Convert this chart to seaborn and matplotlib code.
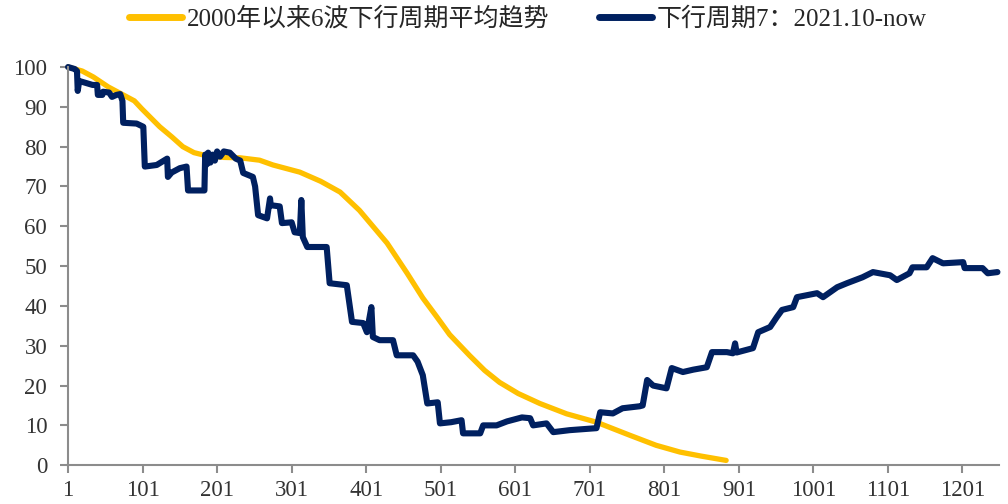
import pandas as pd
import matplotlib
matplotlib.use('Agg')
import matplotlib.pyplot as plt
import seaborn as sns


# 2000年以来6波下行周期平均趋势
avg_x = [1, 20, 35, 55, 75, 90, 100, 124, 140, 155, 170, 185, 210, 232, 258, 276,
         312, 340, 366, 392, 429, 456, 477, 496, 513, 540, 560, 580, 605, 634, 670,
         710, 755, 790, 822, 850, 884]
avg_y = [100, 99, 97.5, 95, 93, 91.5, 89.5, 85, 82.5, 80, 78.5, 77.8, 77.3, 77.2, 76.6, 75.4,
         73.6, 71.3, 68.6, 64, 55.8, 48.2, 42, 37.2, 32.8, 27.5, 23.8, 20.8, 18, 15.5, 12.9,
         10.8, 7.5, 5, 3.3, 2.3, 1.2]

# 下行周期7: 2021.10-now
cyc_x = [1, 10, 13, 14, 16, 25, 34, 40, 41, 47, 48, 56, 60, 66, 71, 74, 75, 93, 102, 104,
         120, 134, 135, 140, 151, 160, 162, 184, 185, 187, 189, 192, 195, 198, 201, 205,
         210, 218, 226, 232, 236, 249, 252, 256, 268, 272, 273, 285, 288, 301, 305, 312,
         314, 316, 322, 348, 352, 375, 382, 397, 402, 408, 410, 419, 437, 442, 464, 470,
         477, 483, 497, 500, 515, 529, 531, 554, 558, 576, 590, 610, 621, 625, 643, 652,
         674, 710, 715, 732, 745, 768, 772, 778, 786, 804, 811, 826, 840, 858, 865, 885,
         893, 896, 898, 920, 927, 943, 952, 959, 974, 979, 1006, 1014, 1033, 1046, 1067,
         1081, 1104, 1113, 1130, 1134, 1153, 1161, 1175, 1202, 1204, 1228, 1235, 1248]
cyc_y = [100, 99.5, 99, 94, 96.5, 96, 95.5, 95.5, 93, 93, 93.8, 93.6, 92.5, 93, 93.2, 91.5,
         86, 85.8, 85, 75, 75.4, 77, 72.4, 73.5, 74.6, 75, 69, 69, 78, 75.5, 78.5, 76, 78,
         76.5, 78.8, 77.5, 78.8, 78.5, 77, 76.5, 73.4, 72.4, 70, 62.8, 62, 67, 65.3, 65,
         60.8, 61, 58.5, 58.3, 66.6, 57.3, 54.8, 54.8, 45.7, 45.2, 36, 35.7, 33.4, 39.7,
         32.2, 31.4, 31.4, 27.6, 27.6, 26, 22.6, 15.5, 15.8, 10.5, 10.8, 11.3, 8, 8, 10,
         10, 11, 12, 11.8, 10, 10.5, 8.3, 8.8, 9.3, 13.3, 13, 14.3, 14.8, 15, 21.4, 20,
         19.3, 24.4, 23.4, 24, 24.6, 28.4, 28.4, 28.1, 30.6, 28.3, 29.4, 33.4, 34.7, 37.2,
         39, 39.7, 42.2, 43.2, 42.2, 44.7, 45.7, 47.2, 48.5, 47.7, 46.5, 48.2, 49.7, 49.7,
         52, 50.7, 51, 49.5, 49.5, 48.2, 48.5]

x_ticks = [1, 101, 201, 301, 401, 501, 601, 701, 801, 901, 1001, 1101, 1201]
y_ticks = [0, 10, 20, 30, 40, 50, 60, 70, 80, 90, 100]

avg = pd.DataFrame({'day': avg_x, 'value': avg_y})
cyc = pd.DataFrame({'day': cyc_x, 'value': cyc_y})

sns.set_style('white')
plt.rcParams['font.family'] = ['Liberation Serif', 'Noto Sans CJK SC', 'DejaVu Sans']

fig = plt.figure(figsize=(10.08, 5.04), dpi=100)
ax = fig.add_axes([0.0675, 0.077, 0.9235, 0.79])

sns.lineplot(data=avg, x='day', y='value', color='#FFC000', linewidth=3.8,
             sort=False, estimator=None, label='2000年以来6波下行周期平均趋势',
             clip_on=False, ax=ax)
sns.lineplot(data=cyc, x='day', y='value', color='#002060', linewidth=4.4,
             sort=False, estimator=None, label='下行周期7：2021.10-now',
             clip_on=False, ax=ax)

ax.set_xlim(1, 1250)
ax.set_ylim(0, 100)
ax.set_xticks(x_ticks)
ax.set_yticks(y_ticks)
ax.set_xlabel('')
ax.set_ylabel('')

for side in ['top', 'right']:
    ax.spines[side].set_visible(False)
for side in ['left', 'bottom']:
    ax.spines[side].set_color('#8c8c8c')
    ax.spines[side].set_linewidth(1.5)

ax.tick_params(axis='both', bottom=True, left=True, direction='out', length=6,
               width=1.5, color='#8c8c8c', labelsize=16.5, labelcolor='#333333')
ax.tick_params(axis='x', pad=5)
ax.tick_params(axis='y', pad=9)

leg = ax.legend(loc='center', bbox_to_anchor=(0.524, 0.962), bbox_transform=fig.transFigure,
                ncol=2, frameon=False, handlelength=2.1, handletextpad=0.2,
                columnspacing=2.0, prop={'family': ['Liberation Serif', 'Noto Sans CJK SC'],
                                         'size': 18})
for line in leg.get_lines():
    line.set_linewidth(5)

fig.savefig('out.png', dpi=100)
